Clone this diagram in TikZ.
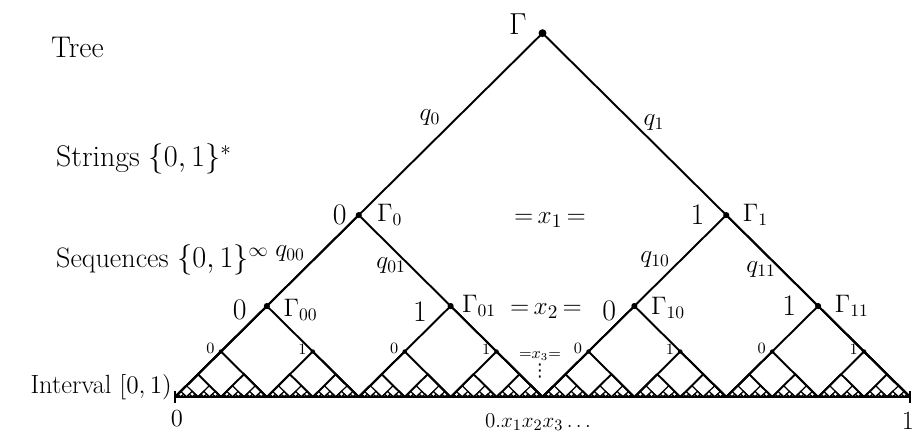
\documentclass[tikz,border=0pt]{standalone}
\usepackage{amsmath, amssymb}
\usepackage{fontspec}
\newfontfamily\symbfont{DejaVu Sans}
\usetikzlibrary{positioning}

\begin{document}
\begin{tikzpicture}[x=0.02cm, y=-0.02cm,
    font=\fontsize{17}{20}\selectfont,
    tri/.style={line width=#1},
    tri/.default=1.1pt,
    dot/.style={circle, fill, inner sep=0pt, minimum size=#1},
    glbl/.style={font=\fontsize{14}{16}\selectfont},
    qlbl/.style={font=\fontsize{14}{16}\selectfont},
    bitlbl/.style={font=\fontsize{9}{10}\selectfont, inner sep=1pt},
    xlbl/.style={font=\fontsize{15}{17}\selectfont}
  ]
  \useasboundingbox (0,0) rectangle (922,435);

  % the unit interval
  \coordinate (lo) at (175,397);
  \coordinate (hi) at (910,397);
  \draw[tri] (lo) -- (hi);
  \draw[tri] ([yshift=3.5pt]lo) -- ([yshift=-3.5pt]lo);
  \draw[tri] ([yshift=3.5pt]hi) -- ([yshift=-3.5pt]hi);

  % nested triangles, one per string
  \foreach \k in {0,...,8}{
    \pgfmathsetmacro{\h}{367.5/2^\k}
    \pgfmathsetmacro{\lw}{\k<5 ? 1.1 : 0.7}
    \pgfmathtruncatemacro{\nlast}{2^\k-1}
    \foreach \i in {0,...,\nlast}{
      \pgfmathsetmacro{\xc}{175+(2*\i+1)*\h}
      \draw[tri=\lw pt] ({\xc-\h},397) -- (\xc,{397-0.99*\h}) -- ({\xc+\h},397);
    }
  }

  % vertices of the first levels
  \foreach \k/\sz in {0/4.5pt, 1/3.5pt, 2/3.5pt, 3/2.5pt}{
    \pgfmathsetmacro{\h}{367.5/2^\k}
    \pgfmathtruncatemacro{\nlast}{2^\k-1}
    \foreach \i in {0,...,\nlast}{
      \pgfmathsetmacro{\xc}{175+(2*\i+1)*\h}
      \node[dot=\sz] (t\k-\i) at (\xc,{397-0.99*\h}) {};
    }
  }

  % names of the vertices
  \node[left=3pt of t0-0, yshift=5pt] (g) {$\Gamma$};
  \node[glbl, right=5pt of t1-0] (g0) {$\Gamma_0$};
  \node[glbl, right=4pt of t1-1] (g1) {$\Gamma_1$};
  \node[glbl, right=4pt of t2-0, yshift=-2pt] (g00) {$\Gamma_{00}$};
  \node[glbl, right=1pt of t2-1] (g01) {$\Gamma_{01}$};
  \node[glbl, right=4pt of t2-2, yshift=-1pt] (g10) {$\Gamma_{10}$};
  \node[glbl, right=4pt of t2-3] (g11) {$\Gamma_{11}$};

  % digits of the strings
  \node[left=1.5pt of t1-0] (d0) {0};
  \node[left=7pt of t1-1] (d1) {1};
  \node[left=6pt of t2-0, yshift=-2pt] (d00) {0};
  \node[left=8pt of t2-1, yshift=-3pt] (d01) {1};
  \node[left=5pt of t2-2, yshift=-3pt] (d10) {0};
  \node[left=7pt of t2-3] (d11) {1};
  \foreach \i in {0,...,7}{
    \pgfmathtruncatemacro{\bit}{mod(\i,2)}
    \node[bitlbl, left=1pt of t3-\i, yshift=1.5pt] (b\i) {\bit};
  }

  % probabilities on the edges
  \node[qlbl] (q0) at (430,118) {$q_0$};
  \node[qlbl] (q1) at (654,123) {$q_1$};
  \node[qlbl] (q00) at (290,254) {$q_{00}$};
  \node[qlbl] (q01) at (391,266) {$q_{01}$};
  \node[qlbl] (q10) at (655,260) {$q_{10}$};
  \node[qlbl] (q11) at (761,270) {$q_{11}$};

  % the digits x_n
  \node[xlbl] (x1) at (550,220) {${=}\,x_1\,{=}$};
  \node[xlbl] (x2) at (546,311) {${=}\,x_2\,{=}$};
  \node[font=\fontsize{9}{10}\selectfont, inner sep=1pt] (x3) at (540,356) {${=}x_3{=}$};
  \node[font=\fontsize{10}{11}\symbfont, below=0.5pt of x3, inner sep=0pt] (more) {⋮};

  % left column
  \node[anchor=base west] (tree) at (45,58) {Tree};
  \node[anchor=base west] (strings) at (50,167) {Strings $\{0,1\}^*$};
  \node[anchor=base west, font=\fontsize{16}{18}\selectfont] (seqs) at (50,268) {Sequences $\{0,1\}^\infty$};
  \node[anchor=base east, font=\fontsize{15}{17}\selectfont] (intv) at (178,393) {Interval $[0,1)$};

  % end points and binary expansion
  \node[font=\fontsize{14}{16}\selectfont] (zero) at (177,419) {0};
  \node[font=\fontsize{15}{17}\selectfont] (one) at (908,421) {1};
  \node[font=\fontsize{13}{15}\selectfont, inner sep=1pt] (expan) at (538,422) {$0.x_1x_2x_3\ldots$};
\end{tikzpicture}
\end{document}
